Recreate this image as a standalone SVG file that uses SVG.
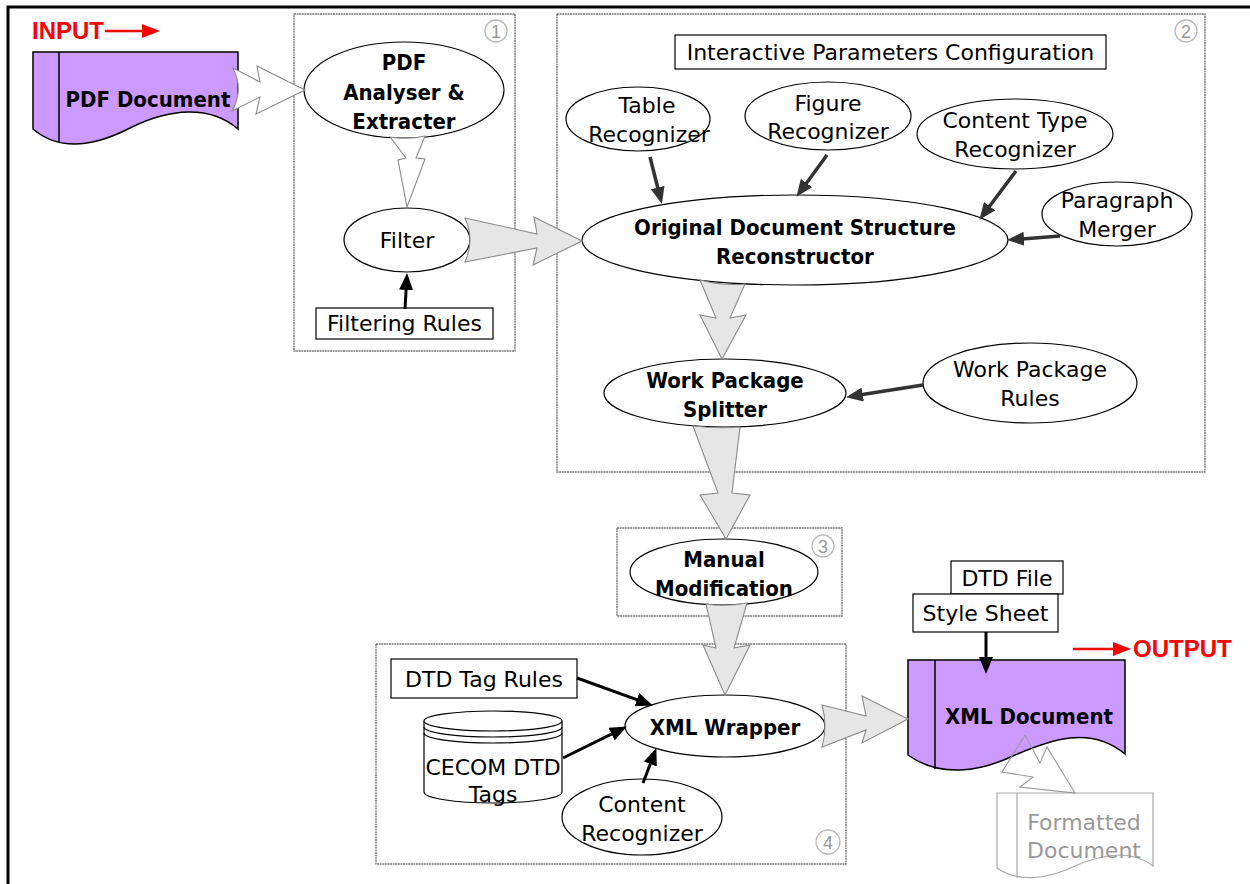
<svg xmlns="http://www.w3.org/2000/svg" width="1250" height="884" viewBox="0 0 1250 884">
<defs>
<style>
text{font-family:"DejaVu Sans","Verdana",sans-serif;font-size:22px;fill:#000;text-anchor:middle}
.b{font-family:"DejaVu Sans Condensed","DejaVu Sans",sans-serif;font-stretch:condensed;font-weight:bold;font-size:22px}
.red{font-family:"Liberation Sans",Arial,sans-serif;font-weight:bold;font-size:24px;fill:#f00;text-anchor:start}
.num{font-family:"Liberation Sans",Arial,sans-serif;font-size:18px;fill:#999}
.numc{fill:#fff;stroke:#bbb;stroke-width:1.3}
.panel{fill:none;stroke:#7a7a7a;stroke-width:1.4;stroke-dasharray:2 0.6}
.el{fill:#fff;stroke:#000;stroke-width:1.2}
.box{fill:#fff;stroke:#000;stroke-width:1.2}
.doc{fill:#cc99ff;stroke:#000;stroke-width:1.5}
.fat{fill:#e6e6e6;stroke:#8a8a8a;stroke-width:1.1;stroke-linejoin:miter}
.wfat{fill:#fff;stroke:#8a8a8a;stroke-width:1.1}
.blk{stroke:#000;stroke-width:3;fill:none;marker-end:url(#ab)}
.dg{stroke:#333;stroke-width:3.5;fill:none;marker-end:url(#ag)}
.rl{stroke:#f00;stroke-width:2.5;fill:none;marker-end:url(#ar)}
</style>
<marker id="ab" markerUnits="userSpaceOnUse" markerWidth="17" markerHeight="14" viewBox="0 0 17 14" refX="2" refY="7" orient="auto"><path d="M0,0 L17,7 L0,14 Z" fill="#000"/></marker>
<marker id="ag" markerUnits="userSpaceOnUse" markerWidth="17" markerHeight="14" viewBox="0 0 17 14" refX="2" refY="7" orient="auto"><path d="M0,0 L17,7 L0,14 Z" fill="#333"/></marker>
<marker id="ar" markerUnits="userSpaceOnUse" markerWidth="18" markerHeight="14" viewBox="0 0 18 14" refX="2" refY="7" orient="auto"><path d="M0,0 L18,7 L0,14 Z" fill="#f00"/></marker>
</defs>
<rect width="1250" height="884" fill="#fff"/>
<path d="M8,884 V7 H1250" fill="none" stroke="#000" stroke-width="3"/>

<g id="panel1"><rect class="panel" x="294" y="14" width="221" height="337"/><circle class="numc" cx="496" cy="31" r="11"/><text class="num" x="496" y="37.5">1</text></g>
<g id="panel2"><rect class="panel" x="557" y="14" width="648" height="458"/><circle class="numc" cx="1186" cy="31" r="11"/><text class="num" x="1186" y="37.5">2</text></g>
<g id="panel3"><rect class="panel" x="617" y="528" width="225" height="88"/><circle class="numc" cx="823" cy="546" r="11"/><text class="num" x="823" y="552.5">3</text></g>
<g id="panel4"><rect class="panel" x="376" y="644" width="470" height="220"/><circle class="numc" cx="828" cy="842" r="12"/><text class="num" x="828" y="848.5">4</text></g>

<g id="input-label"><text class="red" x="32" y="39">INPUT</text></g>
<g id="output-label"><text class="red" x="1133" y="657">OUTPUT</text></g>

<g id="pdf-document"><path class="doc" d="M33,52 H238 V129 C210,105 170,108 130,128 C95,146 60,152 33,129 Z"/><path d="M59,52 V142" stroke="#000" stroke-width="1.5"/><text class="b" x="148" y="107">PDF Document</text></g>

<g id="pdf-analyser"><ellipse class="el" cx="404" cy="90" rx="100" ry="48"/><text class="b" x="404" y="70">PDF</text><text class="b" x="404" y="100">Analyser &amp;</text><text class="b" x="404" y="129">Extracter</text></g>
<g id="filter"><ellipse class="el" cx="407" cy="240" rx="63" ry="32"/><text x="407" y="248">Filter</text></g>
<g id="filtering-rules"><rect class="box" x="316" y="308" width="177" height="31"/><text x="404.5" y="331">Filtering Rules</text></g>

<g id="interactive-config"><rect class="box" x="675" y="35" width="431" height="34"/><text x="890.5" y="60">Interactive Parameters Configuration</text></g>
<g id="table-recognizer"><ellipse class="el" cx="638" cy="119" rx="72" ry="32"/><text x="647" y="113">Table</text><text x="649" y="142">Recognizer</text></g>
<g id="figure-recognizer"><ellipse class="el" cx="828" cy="116" rx="83" ry="34"/><text x="828" y="111">Figure</text><text x="828" y="139">Recognizer</text></g>
<g id="content-type-recognizer"><ellipse class="el" cx="1015" cy="134" rx="98" ry="35"/><text x="1015" y="128">Content Type</text><text x="1015" y="157">Recognizer</text></g>
<g id="paragraph-merger"><ellipse class="el" cx="1117" cy="214" rx="75" ry="32"/><text x="1117" y="208">Paragraph</text><text x="1117" y="237">Merger</text></g>
<g id="structure-reconstructor"><ellipse class="el" cx="795" cy="240" rx="213" ry="45"/><text class="b" x="795" y="235">Original Document Structure</text><text class="b" x="795" y="264">Reconstructor</text></g>
<g id="wp-splitter"><ellipse class="el" cx="725" cy="393" rx="121" ry="34"/><text class="b" x="725" y="388">Work Package</text><text class="b" x="725" y="417">Splitter</text></g>
<g id="wp-rules"><ellipse class="el" cx="1030" cy="383" rx="107" ry="40"/><text x="1030" y="377">Work Package</text><text x="1030" y="406">Rules</text></g>

<g id="manual-modification"><ellipse class="el" cx="724" cy="572" rx="94" ry="33"/><text class="b" x="724" y="567">Manual</text><text class="b" x="724" y="596">Modification</text></g>

<g id="dtd-tag-rules"><rect class="box" x="391" y="659" width="186" height="39"/><text x="484" y="687">DTD Tag Rules</text></g>
<g id="cecom-dtd-tags"><path class="box" d="M424,721 V792 A69,11 0 0 0 562,792 V721"/><ellipse class="el" cx="493" cy="721" rx="69" ry="10"/><path d="M424,727 A69,10 0 0 0 562,727 M424,733 A69,10 0 0 0 562,733" fill="none" stroke="#000" stroke-width="1.2"/><text x="493" y="775">CECOM DTD</text><text x="493" y="802">Tags</text></g>
<g id="content-recognizer"><ellipse class="el" cx="642" cy="817" rx="80" ry="38"/><text x="642" y="812">Content</text><text x="642" y="841">Recognizer</text></g>
<g id="xml-wrapper"><ellipse class="el" cx="725" cy="726" rx="100" ry="31"/><text class="b" x="725" y="735">XML Wrapper</text></g>

<g id="dtd-file"><rect class="box" x="951" y="561" width="112" height="33"/><text x="1007" y="586">DTD File</text></g>
<g id="style-sheet"><rect class="box" x="913" y="594" width="145" height="38"/><text x="985.5" y="621">Style Sheet</text></g>
<g id="xml-document"><path class="doc" d="M908,660 H1125 V754 C1090,725 1050,740 1015,755 C980,772 940,778 908,755 Z"/><path d="M935,660 V769" stroke="#000" stroke-width="1.5"/><text class="b" x="1029" y="724">XML Document</text></g>
<g id="formatted-document"><path d="M997,793 H1153 V866 C1130,848 1100,855 1075,866 C1050,878 1020,884 997,868 Z" fill="#fff" stroke="#aaa" stroke-width="1.2"/><path d="M1017,793 V878" stroke="#aaa" stroke-width="1.2"/><text x="1084" y="830" style="fill:#999">Formatted</text><text x="1084" y="858" style="fill:#999">Document</text></g>

<g id="connectors">
<path class="rl" d="M105,31 H144"/>
<path class="rl" d="M1073,649 H1115"/>
<path class="wfat" d="M233,68 L260,82 L257,66 L305,90 L256,114 L260,97 L232,111 Q244,90 233,68 Z"/>
<path class="wfat" d="M390,137 L406,158 L398,160 L407,207 L425,159 L416,158 L425,136 Q407,140 390,137 Z"/>
<path class="fat" d="M465,218 L537,234 L534,217 L582,241 L533,265 L537,248 L465,262 Q475,240 465,218 Z"/>
<path class="fat" d="M700,280 L716,318 L700,315 L722,359 L746,315 L730,318 L745,284 Q722,286 700,280 Z"/>
<path class="fat" d="M693,426 L718,493 L700,495 L726,539 L750,495 L732,493 L740,427 Q716,429 693,426 Z"/>
<path class="fat" d="M706,604 L716,648 L703,645 L725,695 L750,645 L734,648 L747,603 Q726,607 706,604 Z"/>
<path class="fat" d="M822,705 L866,716 L862,696 L908,719 L862,743 L866,730 L822,747 Q828,726 822,705 Z"/>
<path d="M1025,735 L1040,763 L1047,747 L1075,793 L1020,787 L1033,777 L1002,772 Z" fill="none" stroke="#999" stroke-width="1.1"/>
<path class="blk" d="M405,309 L406.2,288"/>
<path class="dg" d="M650,157 L658.2,189.5"/>
<path class="dg" d="M827,155 L805.3,184.7"/>
<path class="dg" d="M1016,171 L988.4,207.8"/>
<path class="dg" d="M1060,236 L1022,238.9"/>
<path class="dg" d="M923,385 L860.8,394.8"/>
<path class="blk" d="M577,678 L638.8,700.3"/>
<path class="blk" d="M563,758 L613.4,733.2"/>
<path class="blk" d="M643,783 L651,762.1"/>
<path class="blk" d="M986,632 L986,659"/>
</g>
</svg>
